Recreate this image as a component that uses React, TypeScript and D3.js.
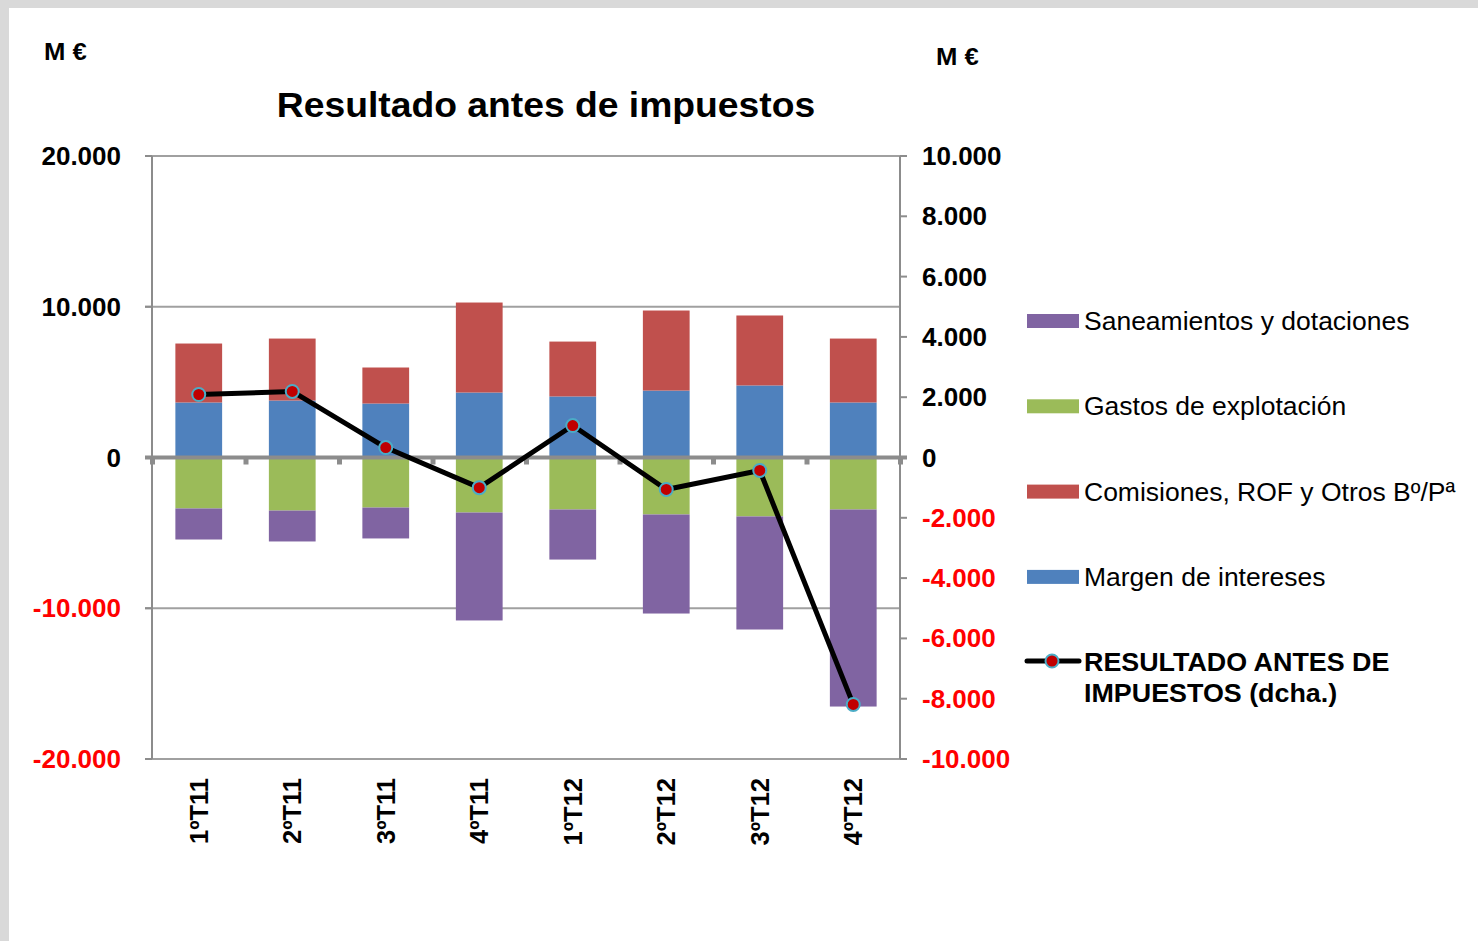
import React from "react";
import * as d3 from "d3";

const categories = ["1ºT11", "2ºT11", "3ºT11", "4ºT11", "1ºT12", "2ºT12", "3ºT12", "4ºT12"];
const margen = [3650, 3780, 3580, 4310, 4050, 4440, 4780, 3650];
const comisiones = [3910, 4110, 2390, 5970, 3640, 5310, 4640, 4240];
const gastos = [-3380, -3520, -3320, -3650, -3450, -3780, -3910, -3450];
const saneamientos = [-2060, -2050, -2050, -7160, -3320, -6570, -7500, -13070];
const resultado = [2090, 2190, 330, -1000, 1060, -1060, -430, -8190];

const leftTicks = [20000, 10000, 0, -10000, -20000];
const rightTicks = [10000, 8000, 6000, 4000, 2000, 0, -2000, -4000, -6000, -8000, -10000];

const seriesKeys = ["margen", "comisiones", "gastos", "saneamientos"];
const seriesColors: Record<string, string> = {
  margen: "#4F81BD",
  comisiones: "#C0504D",
  gastos: "#9BBB59",
  saneamientos: "#8064A2",
};
const legendItems = [
  { key: "saneamientos", label: "Saneamientos y dotaciones" },
  { key: "gastos", label: "Gastos de explotación" },
  { key: "comisiones", label: "Comisiones, ROF y Otros Bº/Pª" },
  { key: "margen", label: "Margen de intereses" },
];

const FONT = "'Liberation Sans', Arial, Helvetica, sans-serif";
const fmt = (v: number) => d3.format(",")(v).replace(/,/g, ".").replace("−", "-");

export default function App() {
  const W = 1478, H = 941;
  const x0 = 152, x1 = 900, yTop = 156, yBot = 759;
  const x = d3.scaleBand<string>().domain(categories).range([x0, x1]).paddingInner(0.5).paddingOuter(0.25);
  const xc = (c: string) => (x(c) as number) + x.bandwidth() / 2;
  const yL = d3.scaleLinear().domain([-20000, 20000]).range([yBot, yTop]);
  const yR = d3.scaleLinear().domain([-10000, 10000]).range([yBot, yTop]);

  const table = categories.map((c, i) => ({
    cat: c,
    margen: margen[i],
    comisiones: comisiones[i],
    gastos: gastos[i],
    saneamientos: saneamientos[i],
  }));
  const stacked = d3.stack<any>().keys(seriesKeys).offset(d3.stackOffsetDiverging)(table);

  const line = d3
    .line<number>()
    .x((_, i) => xc(categories[i]))
    .y((d) => yR(d));

  const axisColor = "#8C8C8C";
  const bandStep = (x1 - x0) / categories.length;

  return (
    <svg width={W} height={H} style={{ position: "absolute", left: 0, top: 0 }} fontFamily={FONT}>
      <rect x={0} y={0} width={W} height={H} fill="#D9D9D9" />
      <rect x={9} y={8} width={W - 9} height={H - 8} fill="#FFFFFF" />

      <text transform="translate(44,60) scale(1.07,1)" fontSize={24} fontWeight="bold">M €</text>
      <text transform="translate(936,65) scale(1.07,1)" fontSize={24} fontWeight="bold">M €</text>
      <text transform="translate(546,117) scale(1.065,1)" fontSize={35} fontWeight="bold" textAnchor="middle">Resultado antes de impuestos</text>

      {/* gridlines */}
      {leftTicks.filter((t) => t !== 0).map((t) => (
        <line key={"g" + t} x1={145} x2={x1} y1={yL(t)} y2={yL(t)} stroke="#A0A0A0" strokeWidth={2} />
      ))}
      {/* bars */}
      {stacked.map((s) => (
        <g key={s.key} fill={seriesColors[s.key]}>
          {s.map((d, i) => (
            <rect
              key={i}
              x={x(categories[i])}
              width={x.bandwidth()}
              y={yL(Math.max(d[0], d[1]))}
              height={Math.abs(yL(d[0]) - yL(d[1]))}
            />
          ))}
        </g>
      ))}

      {/* left axis */}
      <line x1={x0} x2={x0} y1={yTop} y2={yBot} stroke={axisColor} strokeWidth={2} />
      {leftTicks.map((t) => (
        <g key={"l" + t}>
          <line x1={145} x2={x0} y1={yL(t)} y2={yL(t)} stroke={axisColor} strokeWidth={2} />
          <text x={121} y={yL(t) + 9} fontSize={26} fontWeight="bold" textAnchor="end" fill={t < 0 ? "#FF0000" : "#000"}>
            {fmt(t)}
          </text>
        </g>
      ))}
      {/* right axis */}
      <line x1={x1} x2={x1} y1={yTop} y2={yBot} stroke={axisColor} strokeWidth={2} />
      {rightTicks.map((t) => (
        <g key={"r" + t}>
          <line x1={x1} x2={907} y1={yR(t)} y2={yR(t)} stroke={axisColor} strokeWidth={2} />
          <text x={922} y={yR(t) + 9} fontSize={26} fontWeight="bold" fill={t < 0 ? "#FF0000" : "#000"}>
            {fmt(t)}
          </text>
        </g>
      ))}

      {/* zero axis */}
      <line x1={145} x2={907} y1={yL(0)} y2={yL(0)} stroke={axisColor} strokeWidth={4} />
      {d3.range(categories.length + 1).map((k) => (
        <rect key={"zt" + k} x={x0 + k * bandStep - 2} y={yL(0)} width={5} height={7} fill={axisColor} />
      ))}

      {/* category labels */}
      {categories.map((c) => (
        <text
          key={"c" + c}
          transform={`translate(${xc(c) + 9},${778}) rotate(-90)`}
          fontSize={25.5}
          fontWeight="bold"
          textAnchor="end"
        >
          {c}
        </text>
      ))}

      {/* line series */}
      <path d={line(resultado) || ""} fill="none" stroke="#000" strokeWidth={5} strokeLinejoin="round" />
      {resultado.map((v, i) => (
        <circle key={"m" + i} cx={xc(categories[i])} cy={yR(v)} r={6.5} fill="#C00000" stroke="#4BACC6" strokeWidth={2} />
      ))}

      {/* legend */}
      {legendItems.map((it, i) => {
        const cy = 321 + i * 85.3;
        return (
          <g key={"lg" + it.key}>
            <rect x={1027} y={cy - 7} width={52} height={14} fill={seriesColors[it.key]} />
            <text transform={`translate(1084,${cy + 9}) scale(1.06,1)`} fontSize={25}>{it.label}</text>
          </g>
        );
      })}
      <line x1={1027} x2={1079} y1={661} y2={661} stroke="#000" strokeWidth={5} strokeLinecap="round" />
      <circle cx={1052} cy={661} r={6.5} fill="#C00000" stroke="#4BACC6" strokeWidth={2} />
      <text transform="translate(1084,671) scale(1.075,1)" fontSize={25} fontWeight="bold">RESULTADO ANTES DE</text>
      <text transform="translate(1084,702) scale(1.075,1)" fontSize={25} fontWeight="bold">IMPUESTOS (dcha.)</text>
    </svg>
  );
}
